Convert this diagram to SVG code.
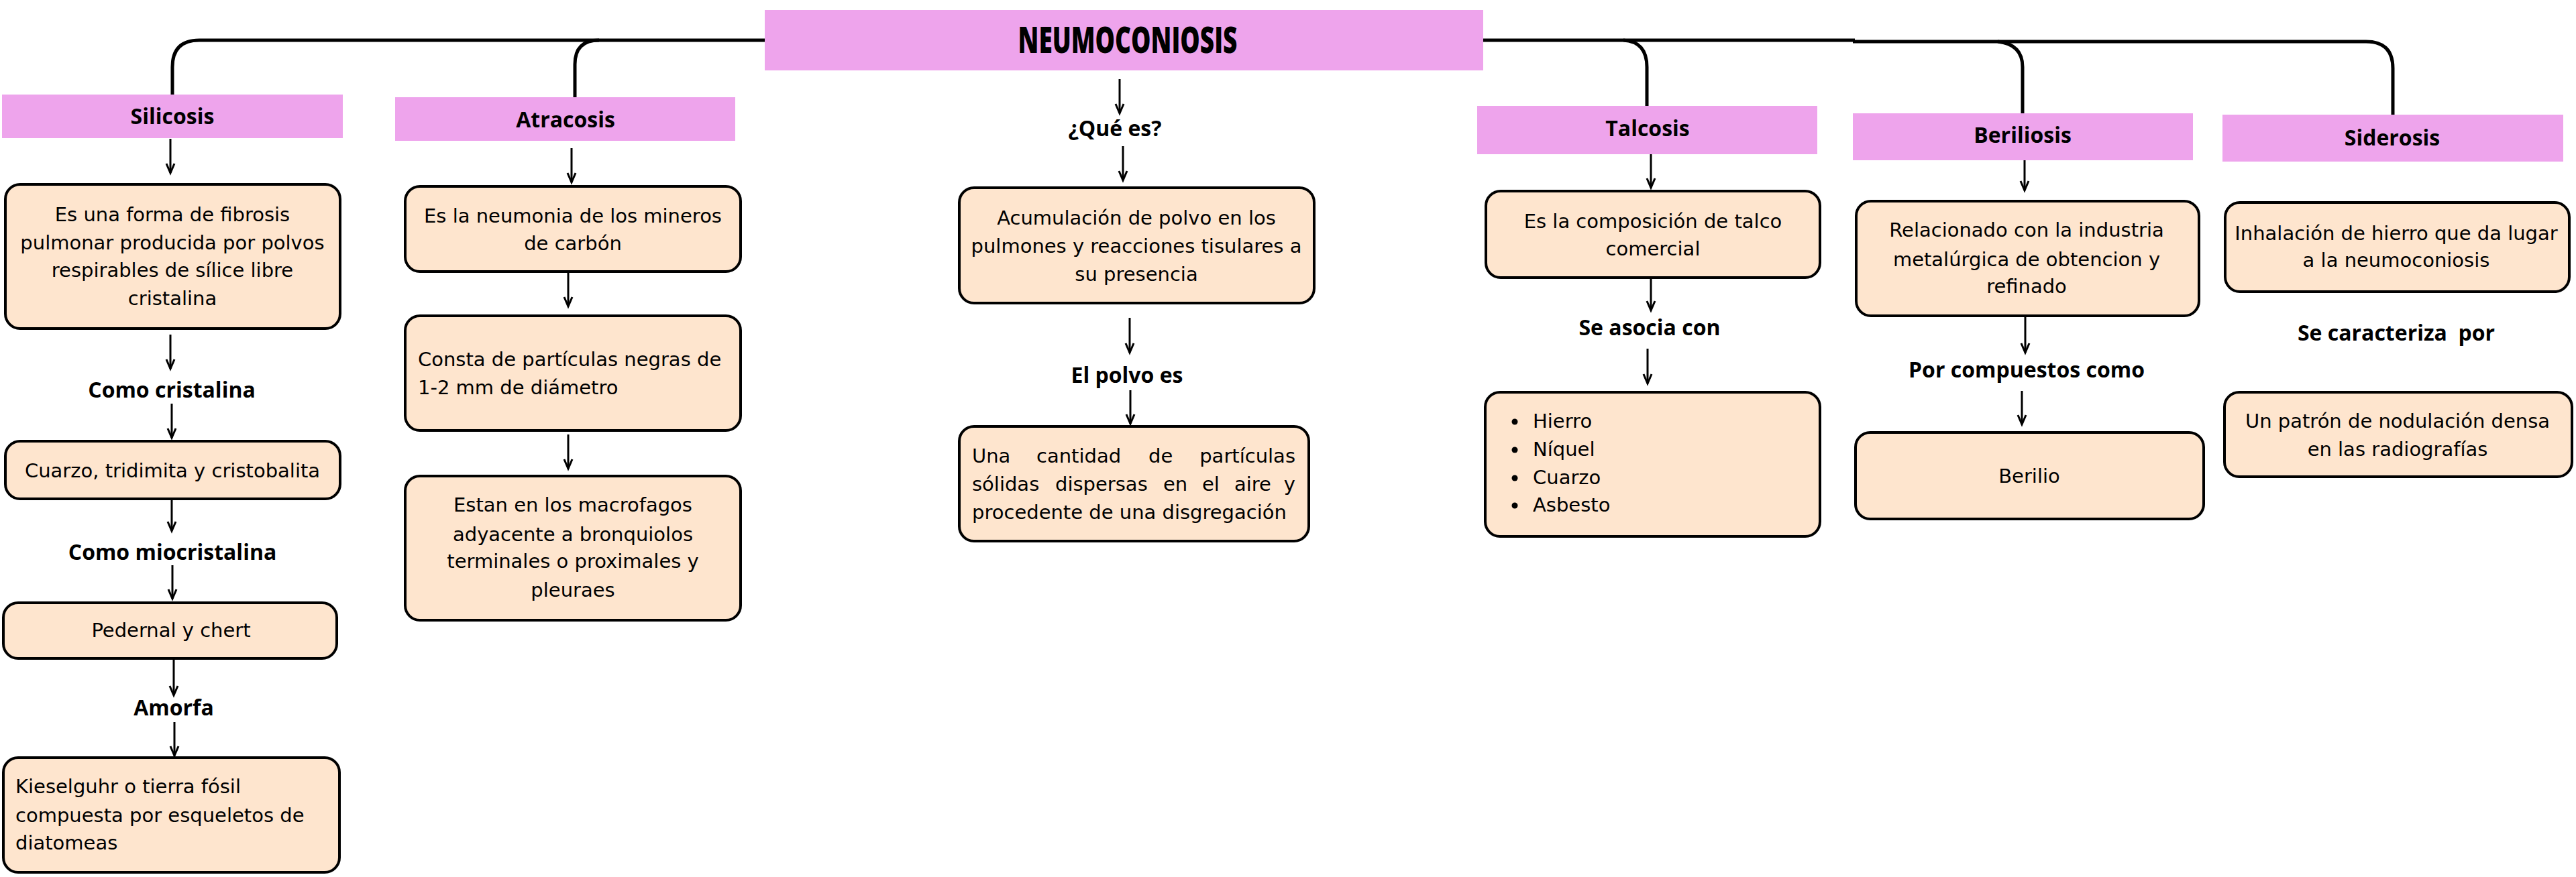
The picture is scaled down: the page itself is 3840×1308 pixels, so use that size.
<svg xmlns="http://www.w3.org/2000/svg" width="3840" height="1308" viewBox="0 0 3840 1308">
<style>
.hdr{fill:#EEA4EC}
.box{fill:#FEE5CE;stroke:#000;stroke-width:4}
.t{font-family:"DejaVu Sans","Open Sans",sans-serif;font-size:29px;fill:#000}
.c{text-anchor:middle}
.e{text-anchor:end}
.b{font-family:"Open Sans","DejaVu Sans",sans-serif;font-weight:700;font-size:32px;fill:#000;text-anchor:middle}
.title{font-family:"Open Sans","DejaVu Sans",sans-serif;font-weight:800;font-size:54px;fill:#000;text-anchor:middle}
.conn{fill:none;stroke:#000;stroke-width:5}
.arr{fill:none;stroke:#000;stroke-width:3;marker-end:url(#ah)}
</style>
<defs>
<marker id="ah" markerUnits="userSpaceOnUse" markerWidth="18" markerHeight="16" viewBox="-16 -8 18 16" refX="0" refY="0" orient="auto" overflow="visible">
<path d="M-14,-6 L0,0 L-14,6" fill="none" stroke="#000" stroke-width="3"/>
</marker>
</defs>
<rect width="3840" height="1308" fill="#fff"/>

<g id="connectors">
<path class="conn" d="M257,141 V100 Q257,60 297,60 H1140"/>
<path class="conn" d="M857,145 V96 Q857,60 893,60"/>
<path class="conn" d="M2211,60 H2765"/>
<path class="conn" d="M2420,60 Q2455,62 2455,100 V158"/>
<path class="conn" d="M2762,62 H3527 Q3567,62 3567,102 V171"/>
<path class="conn" d="M2978,62 Q3015,66 3015,100 V169"/>
<line class="arr" x1="254" y1="207" x2="254" y2="258"/>
<line class="arr" x1="254" y1="499" x2="254" y2="550"/>
<line class="arr" x1="256" y1="602" x2="256" y2="653"/>
<line class="arr" x1="256" y1="746" x2="256" y2="792"/>
<line class="arr" x1="257" y1="843" x2="257" y2="893"/>
<line class="arr" x1="259" y1="984" x2="259" y2="1037"/>
<line class="arr" x1="260" y1="1077" x2="260" y2="1127"/>
<line class="arr" x1="852" y1="221" x2="852" y2="272"/>
<line class="arr" x1="847" y1="407" x2="847" y2="457"/>
<line class="arr" x1="847" y1="648" x2="847" y2="699"/>
<line class="arr" x1="1669" y1="118" x2="1669" y2="169"/>
<line class="arr" x1="1674" y1="218" x2="1674" y2="269"/>
<line class="arr" x1="1684" y1="474" x2="1684" y2="526"/>
<line class="arr" x1="1685" y1="582" x2="1685" y2="632"/>
<line class="arr" x1="2461" y1="230" x2="2461" y2="280"/>
<line class="arr" x1="2461" y1="416" x2="2461" y2="463"/>
<line class="arr" x1="2456" y1="520" x2="2456" y2="572"/>
<line class="arr" x1="3018" y1="239" x2="3018" y2="284"/>
<line class="arr" x1="3019" y1="473" x2="3019" y2="526"/>
<line class="arr" x1="3014" y1="583" x2="3014" y2="633"/>
</g>

<g id="title">
<rect class="hdr" x="1140" y="15" width="1071" height="90"/>
<text class="title" x="1681" y="79" textLength="327" lengthAdjust="spacingAndGlyphs">NEUMOCONIOSIS</text>
</g>

<g id="silicosis">
<rect class="hdr" x="3" y="141" width="508" height="65"/>
<text class="b" x="257" y="185">Silicosis</text>
</g>
<g id="silicosis-def">
<rect class="box" x="8" y="275" width="499" height="215" rx="22"/>
<text class="t c" x="257"><tspan x="257" y="330">Es una forma de fibrosis</tspan><tspan x="257" y="372">pulmonar producida por polvos</tspan><tspan x="257" y="413">respirables de sílice libre</tspan><tspan x="257" y="455">cristalina</tspan></text>
</g>
<g id="lbl-cristalina"><text class="b" x="256" y="593">Como cristalina</text></g>
<g id="cuarzo">
<rect class="box" x="8" y="658" width="499" height="86" rx="22"/>
<text class="t c" x="257" y="712">Cuarzo, tridimita y cristobalita</text>
</g>
<g id="lbl-miocristalina"><text class="b" x="257" y="835">Como miocristalina</text></g>
<g id="pedernal">
<rect class="box" x="5" y="899" width="497" height="83" rx="22"/>
<text class="t c" x="255" y="950">Pedernal y chert</text>
</g>
<g id="lbl-amorfa"><text class="b" x="259" y="1067">Amorfa</text></g>
<g id="kieselguhr">
<rect class="box" x="5" y="1130" width="501" height="171" rx="22"/>
<text class="t" x="23"><tspan x="23" y="1183">Kieselguhr o tierra fósil</tspan><tspan x="23" y="1226">compuesta por esqueletos de</tspan><tspan x="23" y="1267">diatomeas</tspan></text>
</g>

<g id="atracosis">
<rect class="hdr" x="589" y="145" width="507" height="65"/>
<text class="b" x="843" y="190">Atracosis</text>
</g>
<g id="atracosis-def">
<rect class="box" x="604" y="278" width="500" height="127" rx="22"/>
<text class="t c" x="854"><tspan x="854" y="332">Es la neumonia de los mineros</tspan><tspan x="854" y="373">de carbón</tspan></text>
</g>
<g id="particulas">
<rect class="box" x="604" y="471" width="500" height="171" rx="22"/>
<text class="t" x="623"><tspan x="623" y="546">Consta de partículas negras de</tspan><tspan x="623" y="588">1-2 mm de diámetro</tspan></text>
</g>
<g id="macrofagos">
<rect class="box" x="604" y="710" width="500" height="215" rx="22"/>
<text class="t c" x="854"><tspan x="854" y="763">Estan en los macrofagos</tspan><tspan x="854" y="807">adyacente a bronquiolos</tspan><tspan x="854" y="847">terminales o proximales y</tspan><tspan x="854" y="890">pleuraes</tspan></text>
</g>

<g id="lbl-que-es"><text class="b" x="1662" y="203">¿Qué es?</text></g>
<g id="acumulacion">
<rect class="box" x="1430" y="280" width="529" height="172" rx="22"/>
<text class="t c" x="1694"><tspan x="1694" y="335">Acumulación de polvo en los</tspan><tspan x="1694" y="377">pulmones y reacciones tisulares a</tspan><tspan x="1694" y="419">su presencia</tspan></text>
</g>
<g id="lbl-polvo"><text class="b" x="1680" y="571">El polvo es</text></g>
<g id="polvo-def">
<rect class="box" x="1430" y="636" width="521" height="171" rx="22"/>
<text class="t"><tspan x="1449" y="690">Una</tspan><tspan x="1545" y="690">cantidad</tspan><tspan x="1712" y="690">de</tspan></text>
<text class="t e" x="1931" y="690">partículas</text>
<text class="t"><tspan x="1449" y="732">sólidas</tspan><tspan x="1573" y="732">dispersas</tspan><tspan x="1734" y="732">en</tspan><tspan x="1792" y="732">el</tspan><tspan x="1840" y="732">aire</tspan></text>
<text class="t e" x="1931" y="732">y</text>
<text class="t" x="1449" y="774">procedente de una disgregación</text>
</g>

<g id="talcosis">
<rect class="hdr" x="2202" y="158" width="507" height="72"/>
<text class="b" x="2456" y="203">Talcosis</text>
</g>
<g id="talcosis-def">
<rect class="box" x="2215" y="285" width="498" height="129" rx="22"/>
<text class="t c" x="2464"><tspan x="2464" y="340">Es la composición de talco</tspan><tspan x="2464" y="381">comercial</tspan></text>
</g>
<g id="lbl-asocia"><text class="b" x="2459" y="500">Se asocia con</text></g>
<g id="asocia-list">
<rect class="box" x="2214" y="585" width="499" height="215" rx="22"/>
<circle cx="2258" cy="629" r="4.5"/>
<circle cx="2258" cy="671" r="4.5"/>
<circle cx="2258" cy="713" r="4.5"/>
<circle cx="2258" cy="754" r="4.5"/>
<text class="t" x="2285"><tspan x="2285" y="638">Hierro</tspan><tspan x="2285" y="680">Níquel</tspan><tspan x="2285" y="722">Cuarzo</tspan><tspan x="2285" y="763">Asbesto</tspan></text>
</g>

<g id="beriliosis">
<rect class="hdr" x="2762" y="169" width="507" height="70"/>
<text class="b" x="3015" y="213">Beriliosis</text>
</g>
<g id="beriliosis-def">
<rect class="box" x="2767" y="300" width="511" height="171" rx="22"/>
<text class="t c" x="3021"><tspan x="3021" y="353">Relacionado con la industria</tspan><tspan x="3021" y="397">metalúrgica de obtencion y</tspan><tspan x="3021" y="437">refinado</tspan></text>
</g>
<g id="lbl-compuestos"><text class="b" x="3021" y="563">Por compuestos como</text></g>
<g id="berilio">
<rect class="box" x="2766" y="645" width="519" height="129" rx="22"/>
<text class="t c" x="3025" y="720">Berilio</text>
</g>

<g id="siderosis">
<rect class="hdr" x="3313" y="171" width="508" height="70"/>
<text class="b" x="3566" y="217">Siderosis</text>
</g>
<g id="siderosis-def">
<rect class="box" x="3317" y="302" width="513" height="133" rx="22"/>
<text class="t c" x="3572"><tspan x="3572" y="358">Inhalación de hierro que da lugar</tspan><tspan x="3572" y="398">a la neumoconiosis</tspan></text>
</g>
<g id="lbl-caracteriza"><text class="b" x="3572" y="508" xml:space="preserve">Se caracteriza  por</text></g>
<g id="nodulacion">
<rect class="box" x="3316" y="585" width="518" height="126" rx="22"/>
<text class="t c" x="3574"><tspan x="3574" y="638">Un patrón de nodulación densa</tspan><tspan x="3574" y="680">en las radiografías</tspan></text>
</g>
</svg>
